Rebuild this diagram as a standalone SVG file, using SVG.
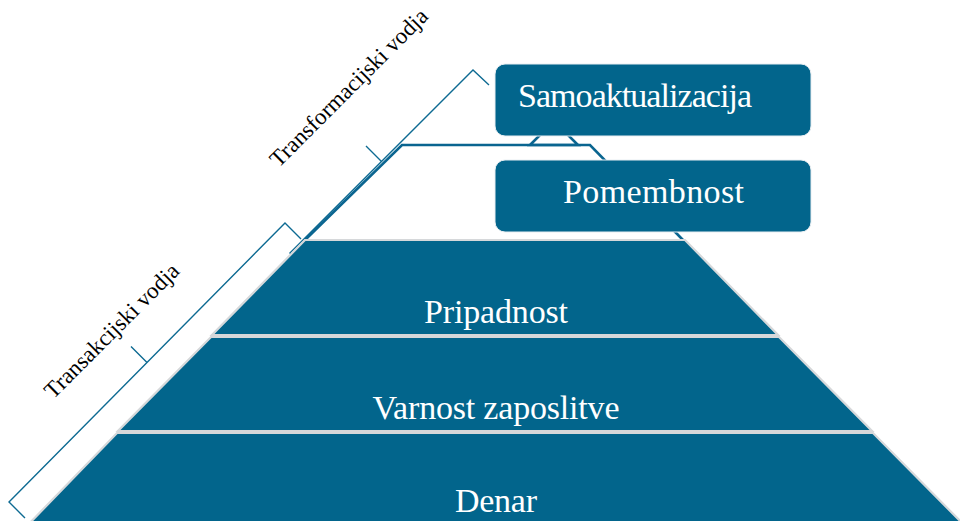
<svg xmlns="http://www.w3.org/2000/svg" width="960" height="521" viewBox="0 0 960 521">
<style>
.br{fill:none;stroke:#0d6a92;stroke-width:1.4;stroke-linejoin:miter}
.ol{fill:none;stroke:#0a6590;stroke-width:2.6;stroke-linejoin:miter}
.lay{fill:#02658c;stroke:#d6d8da;stroke-width:2.2}
.box{fill:#02658c;stroke:#e8eef2;stroke-width:1}
.lt{font-family:"Liberation Serif","Times New Roman",serif;font-size:34px;fill:#ffffff}
.bt{font-family:"Liberation Serif","Times New Roman",serif;font-size:23px;fill:#000000}
</style>
<rect width="960" height="521" fill="#ffffff"/>
<g id="connectors">
<path class="br" d="M489,85 L473,70 L290,253 L306,269 M381.5,161.5 L366,146"/>
<path class="br" d="M301,239 L285,223 L9,502 L25,518 M147,362.5 L131,346.5"/>
<path class="ol" d="M305,240 L402,145 L590,145 L683,240"/>
<path class="ol" d="M530,145 L554,121 L578,145 Z"/>
</g>
<g id="bracket-transform">
<text class="bt" x="354" y="93" text-anchor="middle" transform="rotate(-45 354 93)">Transformacijski vodja</text>
</g>
<g id="bracket-transact">
<text class="bt" x="117" y="336" text-anchor="middle" transform="rotate(-45 117 336)">Transakcijski vodja</text>
</g>
<g id="level-pripadnost">
<polygon class="lay" points="305,240 685,240 778,335 212,335"/>
<text class="lt" x="496" y="323" text-anchor="middle" textLength="144">Pripadnost</text>
</g>
<g id="level-varnost">
<polygon class="lay" points="211,337 779,337 872,431 118,431"/>
<text class="lt" x="496" y="419" text-anchor="middle" textLength="247">Varnost zaposlitve</text>
</g>
<g id="level-denar">
<polygon class="lay" points="117,433 873,433 970,531 22,531"/>
<text class="lt" x="496" y="512" text-anchor="middle" textLength="82">Denar</text>
</g>
<g id="box-samoaktualizacija">
<rect class="box" x="495" y="64" width="316" height="72" rx="10"/>
<text class="lt" x="518" y="107" textLength="234">Samoaktualizacija</text>
</g>
<g id="box-pomembnost">
<rect class="box" x="495" y="160" width="316" height="72" rx="10"/>
<text class="lt" x="653.5" y="203" text-anchor="middle" textLength="181">Pomembnost</text>
</g>
</svg>
